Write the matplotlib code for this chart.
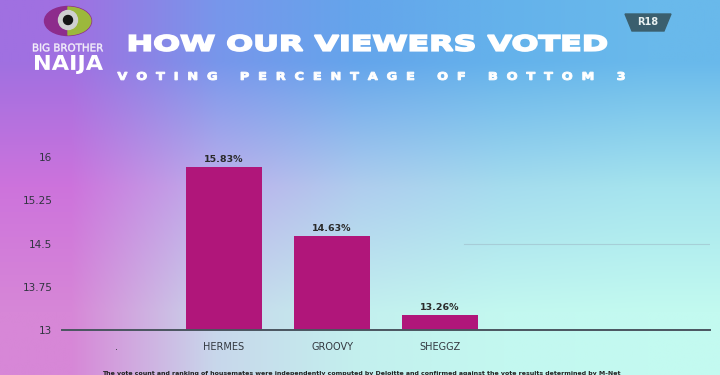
import numpy as np
import matplotlib
matplotlib.use("Agg")
import matplotlib.pyplot as plt
from matplotlib.patches import Ellipse, Circle, Wedge, Polygon, PathPatch
from matplotlib.textpath import TextPath
from matplotlib.font_manager import FontProperties
from matplotlib.transforms import Affine2D

# données
categories = [".", "HERMES", "GROOVY", "SHEGGZ", "", ""]
votes = [np.nan, 15.83, 14.63, 13.26, np.nan, np.nan]
labels = ["", "15.83%", "14.63%", "13.26%", "", ""]
yticks = [13, 13.75, 14.5, 15.25, 16]
ytick_labels = ["13", "13.75", "14.5", "15.25", "16"]

title = "HOW OUR VIEWERS VOTED"
subtitle = "VOTING PERCENTAGE OF BOTTOM 3"
footnote = ("The vote count and ranking of housemates were independently computed by Deloitte "
            "and confirmed against the vote results determined by M-Net")

W, H = 720, 375
fig = plt.figure(figsize=(W / 100, H / 100), dpi=100)

# fond dégradé (violet à gauche, bleu en haut, cyan en bas)
grid = np.array([
    [(160, 112, 225), (120, 150, 235), (100, 165, 235), (100, 178, 235), (105, 185, 235)],
    [(205, 115, 220), (190, 175, 235), (175, 205, 238), (165, 220, 238), (165, 228, 238)],
    [(215, 135, 215), (200, 215, 235), (195, 240, 238), (195, 248, 240), (195, 250, 240)],
]) / 255.0
bg = fig.add_axes([0, 0, 1, 1], zorder=-5)
bg.imshow(grid, aspect="auto", interpolation="bilinear", extent=[0, W, H, 0])
bg.set_xlim(0, W)
bg.set_ylim(H, 0)
bg.axis("off")


def path_text(s, cx, cy, width, height, weight="bold", color="white", stroke=0):
    # texte étiré pour imiter la police large de l'émission
    tp = TextPath((0, 0), s, size=20, prop=FontProperties(family="DejaVu Sans", weight=weight))
    ext = tp.get_extents()
    sx = width / ext.width
    sy = height / ext.height
    tr = (Affine2D().translate(-(ext.x0 + ext.x1) / 2, -(ext.y0 + ext.y1) / 2)
          .scale(sx, -sy).translate(cx, cy))
    bg.add_patch(PathPatch(tr.transform_path(tp), facecolor=color, edgecolor=color,
                           lw=stroke))


# graphique
ax = fig.add_axes([62 / W, 45 / H, 648 / W, 173 / H])
ax.set_facecolor("none")
x = np.arange(len(categories))
ax.bar(x, np.nan_to_num(votes, nan=13) - 13, bottom=13, width=0.71, color="#b0167a", zorder=3)
for xi, v, lab in zip(x, votes, labels):
    if lab:
        ax.text(xi, v + 0.05, lab, ha="center", va="bottom", fontsize=6.8,
                fontweight="bold", color="#2a2a2a")
ax.set_xlim(-0.5, len(categories) - 0.5)
ax.set_ylim(13, 16)
ax.set_yticks(yticks)
ax.set_yticklabels(ytick_labels, fontsize=7.5, color="#303540", fontweight="medium")
ax.set_xticks(x)
ax.set_xticklabels(categories, fontsize=7, color="#333840")
ax.tick_params(axis="both", length=0)
ax.tick_params(axis="y", pad=7)
ax.tick_params(axis="x", pad=9)
for s in ["top", "right", "left"]:
    ax.spines[s].set_visible(False)
ax.spines["bottom"].set_color("#4a5560")
ax.spines["bottom"].set_linewidth(1.4)
ax.spines["bottom"].set_zorder(4)
ax.axhline(14.5, xmin=0.62, xmax=1.0, color="#9fbcc8", lw=0.8, alpha=0.6, zorder=1)

# titres
path_text(title, 368, 43, 477, 16, stroke=1.3)
path_text("  ".join(subtitle), 371, 76, 507, 8, stroke=0.7)

# logo
bg.add_patch(Ellipse((68, 21), 47, 29, color="#8d2c8c"))
bg.add_patch(Wedge((68, 21), 30, -90, 90, color="#9cb83c"))
bg.patches[-1].set_clip_path(bg.patches[-2])
bg.add_patch(Circle((68, 20), 9.5, color="#d0d0d0"))
bg.add_patch(Circle((68, 20), 4.5, color="#151515"))
path_text("BIG BROTHER", 68, 47.5, 70, 8, weight="normal", color="#f4f0fa", stroke=0.3)
path_text("NAIJA", 69, 64.5, 68, 19, color="white")

# badge R18
bg.add_patch(Polygon([(625, 14), (671, 14), (664, 31), (632, 31)], closed=True,
                     color="#3b5f6e"))
bg.text(648, 22, "R18", ha="center", va="center", fontsize=7, fontweight="bold",
        color="#e8f0f0")

# mention en bas
bg.text(361, 373, footnote, ha="center", va="center", fontsize=4.5, fontweight="bold",
        color="#222222")

fig.savefig("out.png", dpi=100)
